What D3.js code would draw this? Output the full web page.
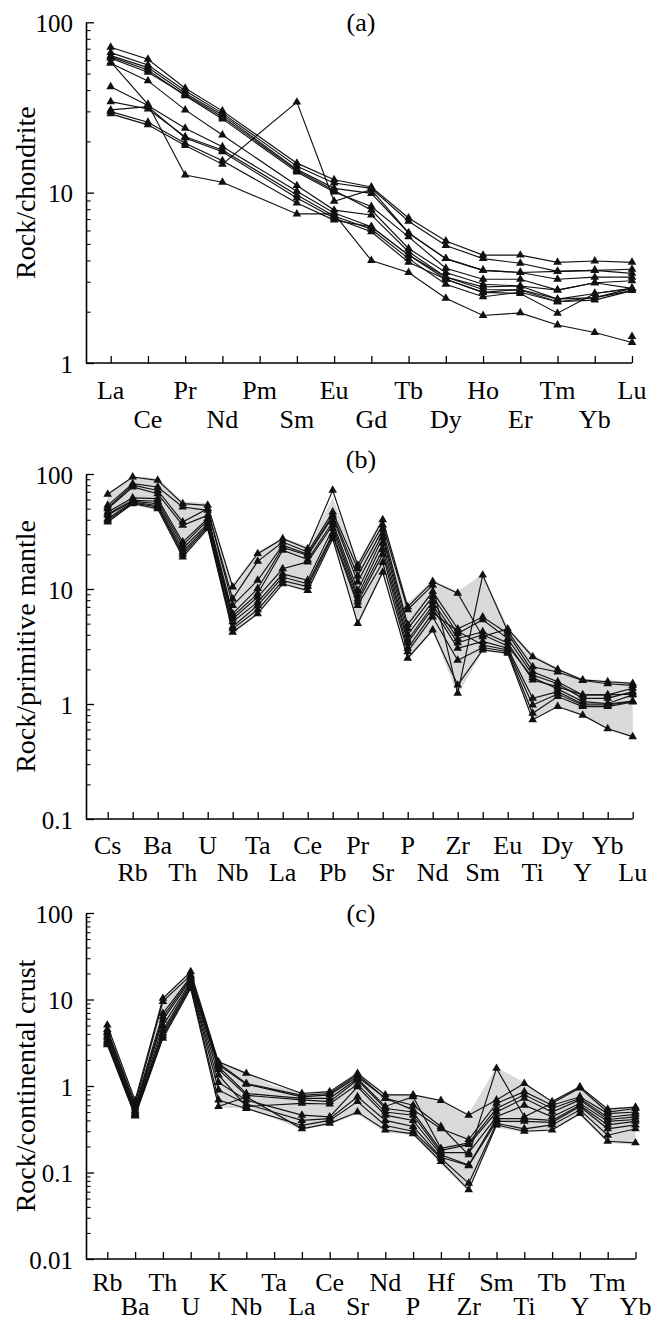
<!DOCTYPE html>
<html>
<head>
<meta charset="utf-8">
<script src="https://cdn.jsdelivr.net/npm/d3@7"></script>
<style>
  body { margin: 0; background: #fff; }
  svg text { font-family: "Liberation Serif", "Times New Roman", serif; fill: #000; }
</style>
</head>
<body>
<div id="main-chart"></div>
<script>
// (a) chondrite-normalised REE
var reeElements = ["La", "Ce", "Pr", "Nd", "Pm", "Sm", "Eu", "Gd", "Tb", "Dy", "Ho", "Er", "Tm", "Yb", "Lu"];
var reeSeries = [
  [71.4, 60.7, 41.0, 30.2, null, 14.9, 11.9, 10.8, 7.1, 5.2, 4.3, 4.3, 3.9, 3.97, 3.9],
  [66.4, 56.2, 39.6, 29.3, null, 14.3, 11.4, 10.6, 6.8, 4.9, 4.1, 3.85, 3.45, 3.5, 3.36],
  [63.7, 54.2, 38.3, 28.6, null, 13.7, 10.6, 9.9, 5.8, 4.1, 3.5, 3.4, 3.1, 3.19, 3.19],
  [62.7, 52.5, 37.1, 27.1, null, 13.2, 10.1, 8.3, 5.5, 3.6, 3.1, 3.1, 2.68, 2.96, 3.04],
  [61.5, 50.9, 37.6, 27.8, null, 13.5, 10.3, 7.9, 4.7, 3.4, 2.9, 2.83, 2.37, 2.42, 2.74],
  [58.5, 33.0, 12.7, 11.5, null, 7.5, 7.5, 4.0, 3.4, 2.4, 1.9, 1.97, 1.67, 1.51, 1.32],
  [57.5, 45.3, 30.6, 21.8, null, 11.0, 7.9, 7.4, 4.5, 3.2, 2.7, 2.68, 2.29, 2.34, 2.66],
  [41.9, 32.5, 23.9, 18.6, null, 10.2, 7.6, 6.3, 4.3, 3.1, 2.6, 2.56, 1.96, 2.56, 2.74],
  [34.2, 31.0, 21.3, 17.8, null, 9.7, 7.3, 6.1, 4.1, 2.9, 2.45, 2.6, 2.29, 2.42, 2.66],
  [30.6, 32.0, 20.9, 17.4, null, 9.3, 7.1, 5.9, 3.9, 3.1, 2.6, 2.7, 2.37, 2.56, 2.74],
  [29.9, 25.9, 19.5, 15.4, null, 8.7, 6.9, 6.3, 4.3, 3.2, 2.8, 2.83, 2.68, 2.96, 2.74],
  [29.0, 25.0, 18.9, 14.7, null, 34.0, 8.9, 10.4, 5.8, 4.1, 3.5, 3.4, 3.45, 3.5, 3.55],
  [null, null, null, null, null, null, null, null, null, null, null, null, null, null, 1.43]
];
var reeTicks = [1, 10, 100];

// (b) primitive-mantle normalised
var pmElements = ["Cs", "Rb", "Ba", "Th", "U", "Nb", "Ta", "La", "Ce", "Pb", "Pr", "Sr", "P", "Nd", "Zr", "Sm", "Eu", "Ti", "Dy", "Y", "Yb", "Lu"];
var pmSeries = [
  [66.6, 94.2, 88.1, 55.2, 53.4, 10.4, 20.3, 27.4, 22.4, 72.1, 16.1, 40, 7.0, 11.6, 9.2, 3.85, 4.5, 2.58, 2.0, 1.62, 1.56, 1.51],
  [53.4, 82.4, 77.1, 51.6, 48.3, 8.2, 17.4, 25.6, 21.0, 46.7, 15.0, 36, 6.6, 10.8, 1.24, 13.2, 4.3, 2.11, 1.9, 1.6, 1.5, 1.45],
  [51.0, 80.0, 72.0, 38.3, 50.0, 7.2, 11.9, 24.0, 20.0, 44.0, 13.0, 33, 4.9, 9.5, 4.5, 5.7, 4.1, 1.91, 1.56, 1.2, 1.2, 1.37],
  [49.9, 77.1, 67.4, 35.8, 43.7, 6.1, 10.1, 23.0, 19.6, 42.3, 11.5, 30, 4.5, 8.6, 4.1, 5.4, 3.7, 1.79, 1.5, 1.12, 1.12, 1.28],
  [46.7, 62.0, 61.0, 25.6, 41.0, 5.8, 9.1, 21.7, 18.0, 38.3, 9.7, 28, 4.0, 7.8, 3.7, 4.25, 3.4, 1.62, 1.41, 1.2, 1.2, 1.22],
  [45.0, 59.0, 58.0, 24.0, 39.6, 5.5, 8.5, 15.0, 17.2, 36.0, 8.8, 25, 3.6, 7.2, 3.4, 4.0, 3.2, 1.7, 1.35, 1.05, 1.01, 1.2],
  [43.7, 58.0, 55.2, 22.4, 37.0, 5.2, 7.7, 13.5, 11.9, 33.5, 8.2, 22, 3.4, 6.8, 3.05, 3.5, 3.05, 1.12, 1.28, 1.0, 1.0, 1.06],
  [40.9, 57.1, 53.0, 21.0, 35.8, 4.7, 7.2, 12.7, 11.1, 30.3, 7.7, 20, 3.05, 6.2, 4.3, 3.26, 2.95, 0.98, 1.22, 0.98, 0.98, 1.05],
  [39.5, 56.0, 51.6, 20.0, 34.5, 4.5, 6.6, 11.8, 10.5, 29.0, 7.2, 17, 2.85, 5.7, 2.4, 3.1, 2.85, 0.83, 1.16, 0.95, 0.95, 1.04],
  [38.3, 55.2, 49.9, 19.0, 33.5, 4.2, 6.1, 11.1, 9.7, 27.4, 5.0, 14, 2.5, 4.4, 1.46, 2.95, 2.76, 0.73, 0.95, 0.80, 0.61, 0.52]
];
var pmFieldUpper = [68, 96, 92, 58, 56, 11, 21, 28, 23.5, 62, 17, 42, 7.5, 12, 9.5, 13.5, 4.7, 2.7, 2.05, 1.65, 1.6, 1.55];
var pmFieldLower = [37, 54, 48, 18.5, 32, 4.1, 6, 10.8, 9.4, 26, 4.8, 13.5, 2.4, 4.3, 1.2, 2.9, 2.7, 0.72, 0.94, 0.79, 0.6, 0.51];
var pmTicks = [0.1, 1, 10, 100];

// (c) continental-crust normalised
var ccElements = ["Rb", "Ba", "Th", "U", "K", "Nb", "Ta", "La", "Ce", "Sr", "Nd", "P", "Hf", "Zr", "Sm", "Ti", "Tb", "Y", "Tm", "Yb"];
var ccSeries = [
  [5.06, 0.68, 10.3, 20.9, 1.9, 1.40, null, 0.82, 0.86, 1.40, 0.79, 0.79, 0.68, 0.46, 0.69, 1.07, 0.66, 0.98, 0.54, 0.57],
  [4.5, 0.62, 9.5, 19.1, 1.83, 1.07, null, 0.78, 0.82, 1.35, 0.72, 0.60, 0.34, 0.16, 1.60, 0.44, 0.63, 0.95, 0.50, 0.55],
  [4.24, 0.58, 6.9, 18.3, 1.75, 1.05, null, 0.75, 0.79, 1.28, 0.72, 0.53, 0.32, 0.24, 0.63, 0.86, 0.60, 0.75, 0.48, 0.50],
  [4.06, 0.55, 6.3, 17.5, 1.67, 0.82, null, 0.72, 0.72, 1.22, 0.58, 0.75, 0.19, 0.22, 0.55, 0.79, 0.55, 0.72, 0.435, 0.47],
  [3.8, 0.52, 5.8, 16.8, 1.55, 0.78, null, 0.69, 0.66, 1.17, 0.55, 0.50, 0.18, 0.21, 0.50, 0.72, 0.50, 0.69, 0.41, 0.44],
  [3.6, 0.50, 5.0, 16.0, 1.34, 0.58, null, 0.63, 0.62, 1.05, 0.50, 0.46, 0.17, 0.17, 0.44, 0.60, 0.44, 0.63, 0.39, 0.41],
  [3.4, 0.48, 4.4, 15.3, 1.1, 0.69, null, 0.46, 0.44, 0.98, 0.46, 0.40, 0.16, 0.122, 0.42, 0.42, 0.40, 0.60, 0.355, 0.39],
  [3.25, 0.47, 4.06, 14.7, 0.9, 0.62, null, 0.40, 0.42, 0.75, 0.40, 0.34, 0.15, 0.12, 0.39, 0.39, 0.38, 0.58, 0.32, 0.355],
  [3.11, 0.46, 3.8, 14.0, 0.69, 0.55, null, 0.35, 0.40, 0.66, 0.35, 0.30, 0.146, 0.075, 0.37, 0.32, 0.355, 0.53, 0.27, 0.32],
  [3.0, 0.45, 3.56, 13.4, 0.58, 0.75, null, 0.32, 0.37, 0.50, 0.31, 0.28, 0.134, 0.063, 0.355, 0.30, 0.31, 0.48, 0.23, 0.22]
];
var ccFieldUpper = [5.2, 0.7, 10.5, 21.5, 1.95, 1.45, 1.0, 0.85, 0.88, 1.45, 0.82, 0.8, 0.7, 0.48, 1.65, 1.1, 0.68, 1.0, 0.56, 0.58];
var ccFieldLower = [2.9, 0.44, 3.4, 13, 0.56, 0.55, 0.42, 0.31, 0.36, 0.47, 0.29, 0.27, 0.125, 0.06, 0.33, 0.29, 0.30, 0.46, 0.22, 0.21];
var ccTicks = [0.01, 0.1, 1, 10, 100];

var svg;

function setup() {
  svg = d3
    .select("#main-chart")
    .append("svg")
    .attr("width", 661)
    .attr("height", 1323);
}

function minorTicks(majors) {
  var out = [];
  for (var i = 0; i < majors.length - 1; i++) {
    for (var k = 2; k <= 9; k++) out.push(majors[i] * k);
  }
  return out;
}

function drawPanel(p) {
  var g = svg.append("g").attr("class", "panel-" + p.tag);

  var x = d3.scalePoint().domain(p.elements).range([p.x0, p.x1]);
  var y = d3
    .scaleLog()
    .domain([p.ticks[0], p.ticks[p.ticks.length - 1]])
    .range([p.yBottom, p.yTop]);

  // grey field
  if (p.upper) {
    var area = d3
      .area()
      .x(function(d, i) { return x(p.elements[i]); })
      .y0(function(d, i) { return y(p.lower[i]); })
      .y1(function(d) { return y(d); });
    g.append("path")
      .attr("d", area(p.upper))
      .attr("fill", "#d9d9d9")
      .attr("stroke", "none");
  }

  // missing elements (Pm, Ta) are skipped, the line runs straight on
  var pts = p.series.map(function(s) {
    return s
      .map(function(v, i) { return { v: v, el: p.elements[i] }; })
      .filter(function(d) { return d.v != null; });
  });

  var line = d3
    .line()
    .x(function(d) { return x(d.el); })
    .y(function(d) { return y(d.v); });

  g.append("g")
    .selectAll("path")
    .data(pts.filter(function(d) { return d.length > 1; }))
    .enter()
    .append("path")
    .attr("d", line)
    .attr("fill", "none")
    .attr("stroke", "#111")
    .attr("stroke-width", 1.15);

  // triangle markers
  var tri = d3.symbol().type(d3.symbolTriangle).size(32);
  pts.forEach(function(s) {
    g.append("g")
      .selectAll("path")
      .data(s)
      .enter()
      .append("path")
      .attr("d", tri)
      .attr("transform", function(d) { return "translate(" + x(d.el) + "," + y(d.v) + ")"; })
      .attr("fill", "#111");
  });

  // y axis
  var yAxis = d3
    .axisLeft(y)
    .tickValues(p.ticks)
    .tickSize(-8)
    .tickSizeOuter(0)
    .tickPadding(13)
    .tickFormat(function(d) { return String(d); });
  var ya = g.append("g").attr("transform", "translate(" + p.axisX + ",0)").call(yAxis);
  ya.selectAll("text").style("font-size", "25px").attr("dy", "0.36em");
  ya.select(".domain").attr("stroke-width", 1.6);
  ya.selectAll(".tick line").attr("stroke-width", 1.3);

  var yMinor = d3.axisLeft(y).tickValues(minorTicks(p.ticks)).tickSize(-4.5).tickFormat("");
  var ym = g.append("g").attr("transform", "translate(" + p.axisX + ",0)").call(yMinor);
  ym.select(".domain").remove();
  ym.selectAll(".tick line").attr("stroke-width", 1.1);

  // x axis
  var xAxis = d3.axisBottom(x).tickSize(-7).tickSizeOuter(0).tickFormat("");
  var xa = g.append("g").attr("transform", "translate(0," + p.yBottom + ")").call(xAxis);
  xa.select(".domain").remove();
  xa.selectAll(".tick line").attr("stroke-width", 1.3);
  g.append("line")
    .attr("x1", p.axisX)
    .attr("x2", p.x1)
    .attr("y1", p.yBottom)
    .attr("y2", p.yBottom)
    .attr("stroke", "#000")
    .attr("stroke-width", 1.6);

  g.append("g")
    .selectAll("text")
    .data(p.elements)
    .enter()
    .append("text")
    .attr("x", function(d) { return x(d); })
    .attr("y", function(d, i) { return p.yBottom + (i % 2 === 0 ? p.row1 : p.row2); })
    .attr("text-anchor", "middle")
    .style("font-size", "26px")
    .text(function(d) { return d; });

  // titles
  g.append("text")
    .attr("transform", "translate(35," + (p.yTop + p.yBottom) / 2 + ") rotate(-90)")
    .attr("text-anchor", "middle")
    .style("font-size", "28px")
    .text(p.yTitle);

  g.append("text")
    .attr("x", 361)
    .attr("y", p.titleY)
    .attr("text-anchor", "middle")
    .style("font-size", "26px")
    .text(p.tag);
}

setup();
drawPanel({
  tag: "(a)", elements: reeElements, series: reeSeries, ticks: reeTicks,
  axisX: 86, x0: 110.7, x1: 632, yTop: 22.3, yBottom: 363,
  row1: 36, row2: 65, titleY: 31, yTitle: "Rock/chondrite"
});
drawPanel({
  tag: "(b)", elements: pmElements, series: pmSeries, ticks: pmTicks,
  upper: pmFieldUpper, lower: pmFieldLower,
  axisX: 86, x0: 107.7, x1: 632.7, yTop: 474, yBottom: 819,
  row1: 35, row2: 62, titleY: 468, yTitle: "Rock/primitive mantle"
});
drawPanel({
  tag: "(c)", elements: ccElements, series: ccSeries, ticks: ccTicks,
  upper: ccFieldUpper, lower: ccFieldLower,
  axisX: 86, x0: 107.3, x1: 635.5, yTop: 913, yBottom: 1259,
  row1: 32, row2: 56, titleY: 922, yTitle: "Rock/continental crust"
});
</script>
</body>
</html>
